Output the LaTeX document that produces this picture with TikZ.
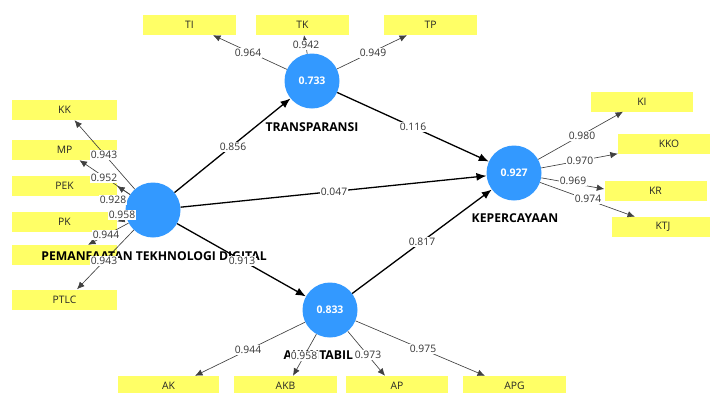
\documentclass[tikz,border=0pt]{standalone}
\usepackage{fontspec}
\setmainfont{Open Sans}
\usetikzlibrary{arrows.meta}
\definecolor{indy}{RGB}{255,255,102}
\definecolor{lvblue}{RGB}{51,153,255}
\begin{document}
\begin{tikzpicture}[x=1pt,y=-1pt,
  ind/.style={fill=indy, minimum height=20pt, inner sep=0pt, text=black!85, font=\fontsize{10.3}{12}\selectfont},
  lv/.style={circle, fill=lvblue, minimum size=55pt, inner sep=0pt, text=white, font=\bfseries\fontsize{10.5}{12}\selectfont},
  load/.style={draw=black!75, line width=0.65pt, -{Latex[length=7.5pt,width=6.5pt]}},
  struct/.style={draw=black, line width=1.3pt, -{Latex[length=10pt,width=8pt]}},
  coef/.style={fill=white, inner sep=1pt, text=black!80, font=\fontsize{10.3}{12}\selectfont},
  lvname/.style={inner sep=0pt, text=black, font=\bfseries\fontsize{12.2}{14}\selectfont}]
\useasboundingbox (0,0) rectangle (710,392);
% indicator boxes
\node[ind, minimum width=93pt] (TI) at (189.5,25) {TI};
\node[ind, minimum width=93pt] (TK) at (302.5,25) {TK};
\node[ind, minimum width=93pt] (TP) at (430.5,25) {TP};
\node[ind, minimum width=105pt] (KK) at (64.5,110) {KK};
\node[ind, minimum width=105pt] (MP) at (64.5,150) {MP};
\node[ind, minimum width=105pt] (PEK) at (64.5,186) {PEK};
\node[ind, minimum width=105pt] (PK) at (64.5,221.5) {PK};
\node[ind, minimum width=105pt] (PT) at (64.5,255) {};
\node[ind, minimum width=105pt] (PTLC) at (64.5,299.5) {PTLC};
\node[ind, minimum width=102pt] (KI) at (642,101.5) {KI};
\node[ind, minimum width=102pt] (KKO) at (669,143.5) {KKO};
\node[ind, minimum width=102pt] (KR) at (655.5,191) {KR};
\node[ind, minimum width=102pt] (KTJ) at (663,227) {KTJ};
\node[ind, minimum width=101pt] (AK) at (168.5,386) {AK};
\node[ind, minimum width=103pt] (AKB) at (285.5,386) {AKB};
\node[ind, minimum width=102pt] (AP) at (397,386) {AP};
\node[ind, minimum width=103pt] (APG) at (514.5,386) {APG};
% latent variables
\node[lv] (PTD) at (153,210) {};
\node[lv] (TR) at (312,81) {0.733};
\node[lv] (KEP) at (514,173) {0.927};
\node[lv] (AKU) at (330,310) {0.833};
% structural paths
\draw[struct] (PTD) -- (TR);
\draw[struct] (PTD) -- (KEP);
\draw[struct] (PTD) -- (AKU);
\draw[struct] (TR) -- (KEP);
\draw[struct] (AKU) -- (KEP);
% loadings
\draw[load] (TR) -- ([xshift=23.5pt]TI.south);
\draw[load] (TR) -- ([xshift=1.5pt]TK.south);
\draw[load] (TR) -- ([xshift=-23.5pt]TP.south);
\draw[load] (PTD) -- ([xshift=10pt]KK.south);
\draw[load] (PTD) -- ([xshift=15pt]MP.south);
\draw[load] (PTD) -- (PEK.east);
\draw[load] (PTD) -- (PK.east);
\draw[load] (PTD) -- ([xshift=23.5pt]PT.north);
\draw[load] (PTD) -- ([xshift=12.5pt]PTLC.north);
\draw[load] (KEP) -- ([xshift=-19pt]KI.south);
\draw[load] (KEP) -- (KKO.south west);
\draw[load] (KEP) -- ([yshift=2pt]KR.west);
\draw[load] (KEP) -- ([xshift=-28pt]KTJ.north);
\draw[load] (AKU) -- ([xshift=26.5pt]AK.north);
\draw[load] (AKU) -- ([xshift=7.5pt]AKB.north);
\draw[load] (AKU) -- ([xshift=-12pt]AP.north);
\draw[load] (AKU) -- ([xshift=-29.5pt]APG.north);
% latent names
\node[lvname] (nTR) at (312,127) {TRANSPARANSI};
\node[lvname] (nKEP) at (515,218) {KEPERCAYAAN};
\node[lvname] (nPTD) at (154,256) {PEMANFAATAN TEKHNOLOGI DIGITAL};
\node[lvname] (nAKU) at (331,355) {AKUNTABILITAS};
% coefficients
\node[coef] (c1) at (233,147) {0.856};
\node[coef] (c2) at (413,127) {0.116};
\node[coef] (c3) at (334,192) {0.047};
\node[coef] (c4) at (422,242) {0.817};
\node[coef] (c5) at (242,261) {0.913};
\node[coef] (l1) at (248,53) {0.964};
\node[coef] (l2) at (306,45) {0.942};
\node[coef] (l3) at (373,53) {0.949};
\node[coef] (l4) at (104,155) {0.943};
\node[coef] (l5) at (104,178) {0.952};
\node[coef] (l6) at (113,200) {0.928};
\node[coef] (l7) at (122,215) {0.958};
\node[coef] (l8) at (106,235) {0.944};
\node[coef] (l9) at (104,261) {0.943};
\node[coef] (l10) at (582,136) {0.980};
\node[coef] (l11) at (580,161) {0.970};
\node[coef] (l12) at (573,181) {0.969};
\node[coef] (l13) at (588,199) {0.974};
\node[coef] (l14) at (248,350) {0.944};
\node[coef] (l15) at (304,356) {0.958};
\node[coef] (l16) at (368,355) {0.973};
\node[coef] (l17) at (423,349) {0.975};
\end{tikzpicture}
\end{document}
